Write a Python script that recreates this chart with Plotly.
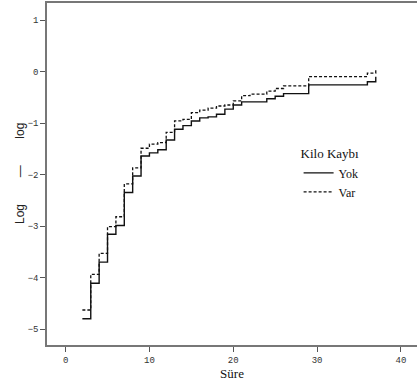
import plotly.graph_objects as go

# Data (log-log survival estimates)
yok_time = [2, 3, 4, 5, 6, 7, 8, 9, 10, 11, 12, 13, 14, 15, 16, 17, 18, 19, 20, 21, 24, 25, 26, 29, 36, 37]
yok_val = [-4.80, -4.11, -3.70, -3.16, -2.99, -2.35, -2.03, -1.64, -1.58, -1.52, -1.33, -1.12, -1.05,
           -0.96, -0.90, -0.88, -0.83, -0.73, -0.65, -0.59, -0.53, -0.48, -0.43, -0.26, -0.20, -0.10]

var_time = [2, 3, 4, 5, 6, 7, 8, 9, 10, 11, 12, 13, 14, 15, 16, 17, 18, 19, 20, 21, 22, 24, 25, 26, 29, 36, 37]
var_val = [-4.63, -3.94, -3.53, -3.01, -2.82, -2.18, -1.87, -1.49, -1.41, -1.38, -1.18, -0.96, -0.93,
           -0.80, -0.75, -0.71, -0.67, -0.65, -0.57, -0.47, -0.44, -0.38, -0.33, -0.28, -0.10, -0.03, 0.05]

x_ticks = [0, 10, 20, 30, 40]
y_ticks = [-5, -4, -3, -2, -1, 0, 1]
y_tick_text = ["\u22125", "\u22124", "\u22123", "\u22122", "\u22121", "0", "1"]

fig = go.Figure()
fig.add_trace(go.Scatter(x=yok_time, y=yok_val, mode="lines", name="Yok",
                         line=dict(color="#111111", width=1.4, shape="hv")))
fig.add_trace(go.Scatter(x=var_time, y=var_val, mode="lines", name="Var",
                         line=dict(color="#111111", width=1.3, shape="hv", dash="3px,2px")))

tick_font = dict(family="Liberation Mono", size=9, color="#333333")

fig.update_layout(
    width=417, height=391,
    margin=dict(l=47, r=0, t=3, b=46),
    paper_bgcolor="white", plot_bgcolor="white",
    showlegend=True,
    legend=dict(
        title=dict(text="Kilo Kayb\u0131", font=dict(family="Liberation Serif", size=13, color="#111")),
        font=dict(family="Liberation Serif", size=12, color="#111"),
        x=0.68, y=0.595, xanchor="left", yanchor="top",
        bgcolor="rgba(0,0,0,0)", itemwidth=30, tracegroupgap=0,
    ),
    xaxis=dict(
        range=[-2.22, 41.92], tickvals=x_ticks, ticks="outside", ticklen=5,
        tickcolor="#555", tickwidth=1, showline=True, linecolor="#777", linewidth=1.5,
        mirror=True, showgrid=False, zeroline=False, tickfont=tick_font, automargin=False,
        title=dict(text="S\u00fcre", font=dict(family="Liberation Serif", size=13, color="#111"), standoff=4),
    ),
    yaxis=dict(
        range=[-5.31, 1.33], tickvals=y_ticks, ticktext=y_tick_text, ticks="outside", ticklen=5,
        tickcolor="#555", tickwidth=1, showline=True, linecolor="#777", linewidth=1.5,
        showgrid=False, zeroline=False, tickfont=tick_font, automargin=False,
    ),
    annotations=[dict(
        text="Log" + "\u00a0" * 8 + "\u2014" + "\u00a0" * 8 + "log",
        xref="paper", yref="paper", x=0, y=0.5, xshift=-27, textangle=-90,
        showarrow=False, xanchor="center", yanchor="middle",
        font=dict(family="Liberation Sans", size=12, color="#222"),
    )],
)

fig.write_html("out.html", config={"displayModeBar": False},
               post_script="document.body.style.margin='0';document.body.style.overflow='hidden';")
